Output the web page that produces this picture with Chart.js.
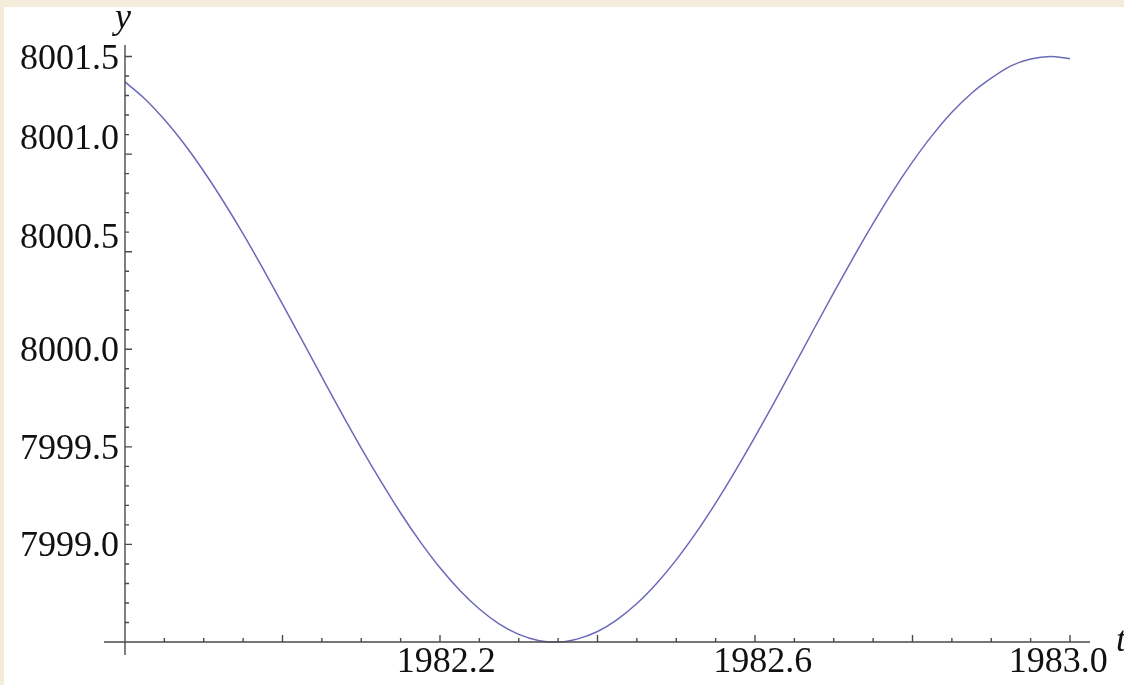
<!DOCTYPE html>
<html><head><meta charset="utf-8">
<script src="https://cdn.jsdelivr.net/npm/chart.js@4.4.1/dist/chart.umd.min.js"></script>
<style>html,body{margin:0;padding:0;background:#fff;overflow:hidden;}canvas{display:block;}</style>
</head><body>
<canvas id="c" width="1124" height="685"></canvas>
<script>
// ---- data ----
const tValues = [
  1981.800, 1981.825, 1981.850, 1981.875, 1981.900, 1981.925, 1981.950, 1981.975,
  1982.000, 1982.025, 1982.050, 1982.075, 1982.100, 1982.125, 1982.150, 1982.175,
  1982.200, 1982.225, 1982.250, 1982.275, 1982.300, 1982.325, 1982.350, 1982.375,
  1982.400, 1982.425, 1982.450, 1982.475, 1982.500, 1982.525, 1982.550, 1982.575,
  1982.600, 1982.625, 1982.650, 1982.675, 1982.700, 1982.725, 1982.750, 1982.775,
  1982.800, 1982.825, 1982.850, 1982.875, 1982.900, 1982.925, 1982.950, 1982.975,
  1983.000
];
const yValues = [
  8001.370, 8001.284, 8001.177, 8001.053, 8000.912, 8000.757, 8000.591, 8000.414,
  8000.231, 8000.045, 7999.858, 7999.673, 7999.494, 7999.323, 7999.161, 7999.013,
  7998.880, 7998.765, 7998.669, 7998.593, 7998.539, 7998.508, 7998.500, 7998.516,
  7998.554, 7998.615, 7998.697, 7998.800, 7998.921, 7999.059, 7999.212, 7999.377,
  7999.551, 7999.732, 7999.918, 8000.105, 8000.290, 8000.471, 8000.645, 8000.809,
  8000.960, 8001.096, 8001.214, 8001.312, 8001.389, 8001.452, 8001.487, 8001.500,
  8001.489
];
const xTickLabels = ['1982.2', '1982.6', '1983.0'];
const xTickLabelAt = [1982.208, 1982.61, 1982.985];
const yTickLabels = ['7999.0', '7999.5', '8000.0', '8000.5', '8001.0', '8001.5'];
const yTickLabelAt = [7999.0, 7999.5, 8000.0, 8000.58, 8001.09, 8001.5];
const xAxisTitle = 't';
const yAxisTitle = 'y';
const xMin = 1981.8, xMax = 1983.0254, xMinorStep = 0.05, xMajorStep = 0.2;
const yMin = 7998.5, yMax = 8001.559, yMinorStep = 0.1, yMajorStep = 0.5;

const points = tValues.map((t, i) => ({x: t, y: yValues[i]}));

const FONT = '36px "Liberation Serif", "Times New Roman", serif';
const FONT_I = 'italic 36px "Liberation Serif", "Times New Roman", serif';
const AXIS_COLOR = '#4a4a4a';

function isMultiple(v, step, base) {
  const r = (v - base) / step;
  return Math.abs(r - Math.round(r)) < 1e-6;
}

const frameAndAxes = {
  id: 'frameAndAxes',
  beforeDraw(chart) {
    const ctx = chart.ctx;
    ctx.save();
    ctx.fillStyle = '#F3ECDA';
    ctx.fillRect(0, 0, chart.width, chart.height);
    ctx.fillStyle = '#ffffff';
    ctx.fillRect(4, 7, chart.width - 4, chart.height - 7);
    ctx.restore();
  },
  afterDatasetsDraw(chart) {
    const ctx = chart.ctx;
    const xs = chart.scales.x, ys = chart.scales.y;
    const x0 = xs.getPixelForValue(xMin);
    const y0 = ys.getPixelForValue(yMin);
    const xEnd = xs.getPixelForValue(xMax);
    const yTop = ys.getPixelForValue(yMax);
    ctx.save();
    ctx.strokeStyle = AXIS_COLOR;
    ctx.lineWidth = 1.4;
    ctx.beginPath();
    ctx.moveTo(x0, yTop); ctx.lineTo(x0, y0 + 13);
    ctx.moveTo(x0 - 21, y0); ctx.lineTo(xEnd, y0);
    // y ticks
    for (let i = 1; ; i++) {
      const v = yMin + i * yMinorStep;
      if (v > yMax + 1e-9) break;
      const p = ys.getPixelForValue(v);
      const len = isMultiple(v, yMajorStep, 0) ? 7 : 4;
      ctx.moveTo(x0, p); ctx.lineTo(x0 + len, p);
    }
    // x ticks
    for (let i = 1; ; i++) {
      const v = xMin + i * xMinorStep;
      if (v > xMax + 1e-9) break;
      const p = xs.getPixelForValue(v);
      const len = isMultiple(v, xMajorStep, 1981.8) ? 7 : 4;
      ctx.moveTo(p, y0); ctx.lineTo(p, y0 - len);
    }
    ctx.stroke();

    ctx.fillStyle = '#111';
    ctx.font = FONT;
    ctx.textBaseline = 'alphabetic';
    ctx.textAlign = 'right';
    yTickLabels.forEach((lab, i) => {
      const p = ys.getPixelForValue(yTickLabelAt[i]);
      ctx.fillText(lab, x0 - 6, p + 12);
    });
    ctx.textAlign = 'center';
    xTickLabels.forEach((lab, i) => {
      const p = xs.getPixelForValue(xTickLabelAt[i]);
      ctx.fillText(lab, p, y0 + 30);
    });
    ctx.font = FONT_I;
    ctx.textAlign = 'center';
    ctx.fillText(yAxisTitle, x0 - 2, 28);
    ctx.textAlign = 'left';
    ctx.fillText(xAxisTitle, xEnd + 26, y0 + 9);
    ctx.restore();
  }
};

new Chart(document.getElementById('c'), {
  type: 'line',
  data: {
    datasets: [{
      data: points,
      borderColor: '#6a6ab8',
      borderWidth: 1.5,
      pointRadius: 0,
      fill: false,
      cubicInterpolationMode: 'monotone',
      clip: 4
    }]
  },
  options: {
    responsive: false,
    animation: false,
    devicePixelRatio: 1,
    layout: { padding: { left: 125, right: 34, top: 45, bottom: 43 } },
    plugins: { legend: { display: false }, tooltip: { enabled: false }, title: { display: false } },
    scales: {
      x: { type: 'linear', min: xMin, max: xMax, display: false },
      y: { type: 'linear', min: yMin, max: yMax, display: false }
    }
  },
  plugins: [frameAndAxes]
});
</script>
</body></html>
